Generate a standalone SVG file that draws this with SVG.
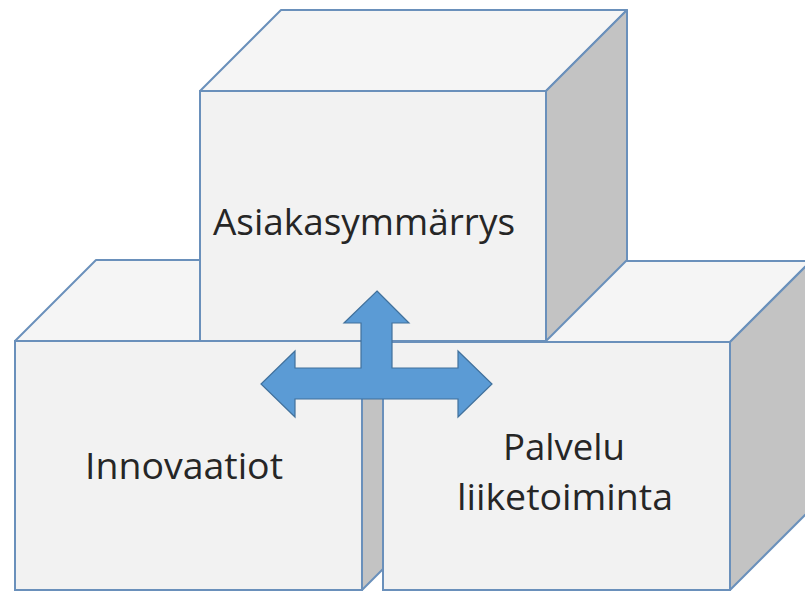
<svg xmlns="http://www.w3.org/2000/svg" width="805" height="592" viewBox="0 0 805 592">
<style>
.front{fill:#f2f2f2;stroke:#6a90bb;stroke-width:2}
.top{fill:#f5f5f5;stroke:#6a90bb;stroke-width:2;stroke-linejoin:round}
.side{fill:#c3c3c3;stroke:#6a90bb;stroke-width:2;stroke-linejoin:round}
.lbl{font-family:"Open Sans","Noto Sans",sans-serif;font-size:36px;fill:#262626;text-anchor:middle}
</style>
<rect width="805" height="592" fill="#ffffff"/>
<g id="innovaatiot">
<polygon class="top" points="15,341 96,260 443,260 362,341"/>
<polygon class="side" points="362,341 443,260 443,509 362,590"/>
<rect class="front" x="15" y="341" width="347" height="249"/>
<text class="lbl" x="184" y="479" textLength="198" lengthAdjust="spacingAndGlyphs">Innovaatiot</text>
</g>
<g id="palvelu">
<polygon class="top" points="383,342 464,261 811,261 730,342"/>
<polygon class="side" points="730,342 811,261 811,509 730,590"/>
<rect class="front" x="383" y="342" width="347" height="248"/>
<text class="lbl" x="564" y="460" textLength="122" lengthAdjust="spacingAndGlyphs">Palvelu</text>
<text class="lbl" x="565" y="510" textLength="216" lengthAdjust="spacingAndGlyphs">liiketoiminta</text>
</g>
<g id="asiakasymmarrys">
<polygon class="top" points="200,91 281,10 627,10 546,91"/>
<polygon class="side" points="546,91 627,10 627,260 546,341"/>
<rect class="front" x="200" y="91" width="346" height="250"/>
<text class="lbl" x="364" y="235" textLength="302" lengthAdjust="spacingAndGlyphs">Asiakasymmärrys</text>
</g>
<g id="connectors">
<polygon points="377,291 409,323 392,323 392,368 458,368 458,351 492,384 458,417 458,399 295,399 295,417 261,384 295,351 295,368 361,368 361,323 344,323" fill="#5b9bd5" stroke="#41719c" stroke-width="1.2" stroke-linejoin="miter"/>
</g>
</svg>
